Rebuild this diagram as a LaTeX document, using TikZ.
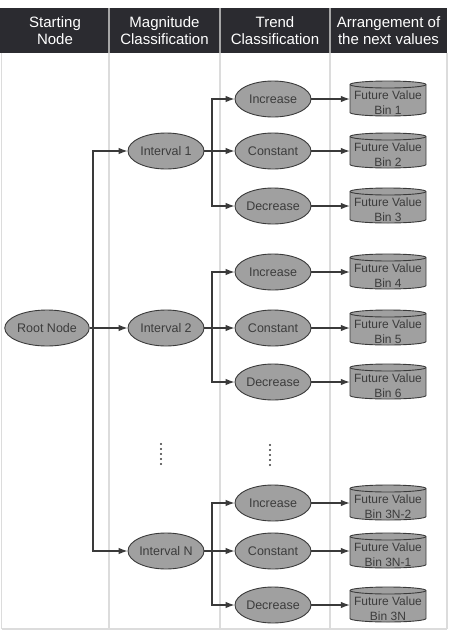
\documentclass[tikz,border=0pt]{standalone}
\usepackage{fontspec}
\setmainfont{Liberation Sans}
\usetikzlibrary{shapes.geometric,arrows.meta}

\definecolor{headbg}{HTML}{2B2B30}
\definecolor{gridgray}{HTML}{DCDCDC}
\definecolor{nodefill}{HTML}{A0A0A0}
\definecolor{nodeline}{HTML}{3A3A3A}
\definecolor{nodetext}{HTML}{3C3C3C}

\tikzset{
	oval/.style={ellipse,draw=nodeline,fill=nodefill,line width=0.9pt,text=nodetext,
		minimum width=76pt,minimum height=36pt,inner sep=0pt,
		font=\fontsize{12.5}{14}\selectfont},
	bin/.style={rectangle,text=nodetext,minimum width=76pt,minimum height=35pt,inner sep=0pt,
		align=center,font=\fontsize{12}{15}\selectfont},
	cyl/.style={draw=nodeline,fill=nodefill,line width=0.9pt},
	heading/.style={text=white,align=center,font=\fontsize{15}{17.5}\selectfont},
	link/.style={-{Latex[length=9pt,width=6.5pt]},line width=1.1pt,draw=nodeline}
}

\begin{document}
\begin{tikzpicture}[x=1pt,y=-1pt]
			\useasboundingbox (0,0) rectangle (451,633);
			%table
			\fill[headbg] (0,8) rectangle (447,53);
			\foreach \x in {1.5,109,220,330,447}
				\draw[gridgray,line width=1.2pt] (\x,53) -- (\x,629);
			\draw[gridgray,line width=1.2pt] (1.5,629) -- (447,629);
			\foreach \x in {109,220,330}
				\draw[gray!70,line width=1.2pt] (\x,8) -- (\x,53);
			\node[heading] (h1) at (55,30.5) {Starting\\Node};
			\node[heading] (h2) at (164.5,30.5) {Magnitude\\Classification};
			\node[heading] (h3) at (275,30.5) {Trend\\Classification};
			\node[heading] (h4) at (388.5,30.5) {Arrangement of\\the next values};
			%nodes
			\node[oval] (root) at (47,328) {Root Node};
			\node[oval] (i1) at (166,151) {Interval 1};
			\node[oval] (i2) at (166,328) {Interval 2};
			\node[oval] (iN) at (166,551) {Interval N};
			\node[oval] (inc1) at (273,99) {Increase};
			\node[oval] (con1) at (273,151) {Constant};
			\node[oval] (dec1) at (273,206) {Decrease};
			\node[oval] (inc2) at (273,272) {Increase};
			\node[oval] (con2) at (273,328) {Constant};
			\node[oval] (dec2) at (273,382) {Decrease};
			\node[oval] (inc3) at (273,503) {Increase};
			\node[oval] (con3) at (273,551) {Constant};
			\node[oval] (dec3) at (273,605) {Decrease};
			%bins
			\foreach \n/\y in {b1/99,b2/151,b3/206,b4/272,b5/328,b6/382,b7/503,b8/551,b9/605}{
				\coordinate (\n) at (388,\y-0.5);
				\draw[cyl] ([shift={(-38pt,14pt)}]\n) -- ([shift={(-38pt,-14pt)}]\n)
					arc[start angle=180,end angle=360,x radius=38pt,y radius=3.5pt]
					-- ([shift={(38pt,14pt)}]\n)
					arc[start angle=0,end angle=180,x radius=38pt,y radius=3.5pt] -- cycle;
				\draw[nodeline,line width=0.9pt] ([shift={(-38pt,14pt)}]\n)
					arc[start angle=180,end angle=360,x radius=38pt,y radius=3.5pt];
			}
			\node[bin] (b1) at (388,103) {Future Value\\Bin 1};
			\node[bin] (b2) at (388,155) {Future Value\\Bin 2};
			\node[bin] (b3) at (388,210) {Future Value\\Bin 3};
			\node[bin] (b4) at (388,276) {Future Value\\Bin 4};
			\node[bin] (b5) at (388,332) {Future Value\\Bin 5};
			\node[bin] (b6) at (388,386) {Future Value\\Bin 6};
			\node[bin] (b7) at (388,507) {Future Value\\Bin 3N-2};
			\node[bin] (b8) at (388,555) {Future Value\\Bin 3N-1};
			\node[bin] (b9) at (388,609) {Future Value\\Bin 3N};
			%branch points
			\coordinate (r0) at (93,328);
			\coordinate (t1) at (212,151);
			\coordinate (t2) at (212,328);
			\coordinate (t3) at (212,551);
			%connectors
			\draw[line width=1.1pt,draw=nodeline] (root) -- (r0);
			\foreach \i in {i1,i2,iN}
				\draw[link] (r0) |- (\i);
			\foreach \i/\t/\a/\b/\c in {i1/t1/inc1/con1/dec1,i2/t2/inc2/con2/dec2,iN/t3/inc3/con3/dec3}{
				\draw[line width=1.1pt,draw=nodeline] (\i) -- (\t);
				\draw[link] (\t) |- (\a);
				\draw[link] (\t) |- (\b);
				\draw[link] (\t) |- (\c);
			}
			\foreach \a/\b/\y in {inc1/b1/99,con1/b2/151,dec1/b3/206,inc2/b4/272,con2/b5/328,dec2/b6/382,inc3/b7/503,con3/b8/551,dec3/b9/605}
				\draw[link] (\a) -- (\b.west |- 0,\y);
			%dots
			\foreach \y in {0,1,2,3,4}{
				\fill[nodeline] (161,444+5*\y) circle (1.1pt);
				\fill[nodeline] (270,445+5*\y) circle (1.1pt);
			}
		\end{tikzpicture}
\end{document}
